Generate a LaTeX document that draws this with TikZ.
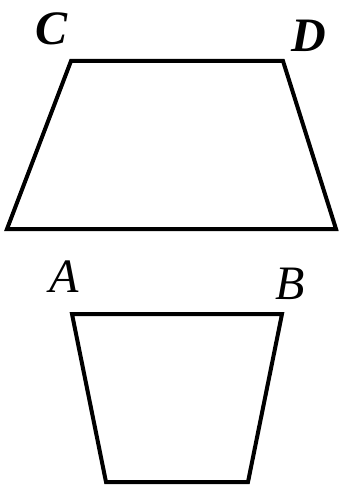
\documentclass[tikz,border=0pt]{standalone}
\usepackage{fontspec}
\setmainfont{Liberation Serif}
\usetikzlibrary{positioning}
\tikzset{
  edge/.style={line width=4pt,line join=miter},
  lbl/.style={inner sep=0pt,font=\fontsize{48}{52}\selectfont\itshape},
  blbl/.style={lbl,font=\fontsize{48}{52}\selectfont\bfseries\itshape},
}

\begin{document}
\begin{tikzpicture}[x=1pt,y=-1pt]
\useasboundingbox (0,0) rectangle (339,486);
% ---- upper trapezoid ----
\coordinate (c) at (71,61);
\coordinate (d) at (283,61);
\coordinate (dd) at (336,229);
\coordinate (cc) at (7,229);
\draw[edge] (c) -- (d) -- (dd) -- (cc) -- cycle;
\node[blbl] (lc) at (52,29) {C};
\node[blbl] (ld) at (309,36) {D};

% ---- lower trapezoid ----
\coordinate (a) at (72,314);
\coordinate (b) at (282,314);
\coordinate (bb) at (248,482);
\coordinate (aa) at (106,482);
\draw[edge] (a) -- (b) -- (bb) -- (aa) -- cycle;
\node[lbl] (la) at (64,277) {A};
\node[lbl] (lb) at (290,284) {B};
\end{tikzpicture}
\end{document}
